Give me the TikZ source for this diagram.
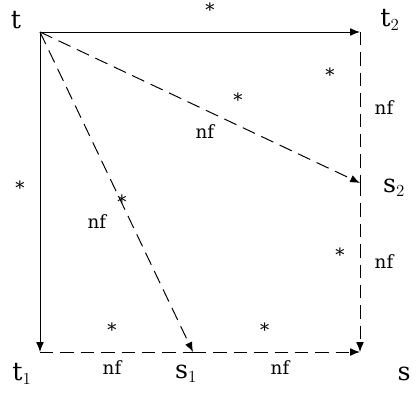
\documentclass[tikz,border=0pt]{standalone}
\usepackage{fontspec}
\setmainfont{DejaVu Serif}
\usepackage{tikz}
\usetikzlibrary{arrows.meta, positioning, calc}

\begin{document}
\begin{tikzpicture}[>={Latex[length=7pt, width=5.5pt]}]
  \tikzset{
    vtx/.style={font=\fontsize{18}{22}\selectfont, inner sep=0pt},
    elab/.style={font=\fontsize{13}{16}\selectfont, inner sep=0pt},
    flow/.style={->, line width=0.7pt},
    nflow/.style={line width=0.7pt, dash pattern=on 9.5pt off 5pt}
  }
  \useasboundingbox (-1, -1) rectangle (9.4, 8.8);

  % Corners
  \coordinate (t) at (0, 8);
  \coordinate (t2) at (8, 8);
  \coordinate (t1) at (0, 0);
  \coordinate (s) at (8, 0);
  \coordinate (s1) at (3.825, 0);
  \coordinate (s2) at (8, 4.225);

  % Vertex names
  \node[vtx] (tname) at (-0.6, 8.3) {t};
  \node[vtx] (t2name) at (8.75, 8.3) {t$_2$};
  \node[vtx] (t1name) at (-0.45, -0.55) {t$_1$};
  \node[vtx] (s1name) at (3.65, -0.55) {s$_1$};
  \node[vtx] (sname) at (9.1, -0.55) {s};
  \node[vtx] (s2name) at (8.85, 4.1) {s$_2$};

  % Edges
  \draw[flow] (t) -- (t2);
  \draw[flow] (t) -- (t1);
  \draw[nflow, ->] (t) -- (s2);
  \draw[nflow, ->] (t) -- (s1);
  \draw[nflow] (t1) -- (s1);
  \draw[nflow, ->] (s1) -- (s);
  \draw[nflow] (t2) -- (s2);
  \draw[nflow, ->] (s2) -- (s);

  % Edge labels
  \node[elab] (a1) at (4.25, 8.55) {*};
  \node[elab] (a2) at (-0.5, 4.1) {*};
  \node[elab] (a3) at (1.8, 0.55) {*};
  \node[elab] (n3) at (1.8, -0.4) {nf};
  \node[elab] (a4) at (5.62, 0.55) {*};
  \node[elab] (n4) at (6, -0.4) {nf};
  \node[elab] (a5) at (7.25, 6.92) {*};
  \node[elab] (n5) at (8.6, 6.1) {nf};
  \node[elab] (a6) at (7.5, 2.42) {*};
  \node[elab] (n6) at (8.6, 2.25) {nf};
  \node[elab] (a7) at (4.95, 6.3) {*};
  \node[elab] (n7) at (4.12, 5.5) {nf};
  \node[elab] (a8) at (2.05, 3.75) {*};
  \node[elab] (n8) at (1.42, 3.25) {nf};
\end{tikzpicture}
\end{document}
